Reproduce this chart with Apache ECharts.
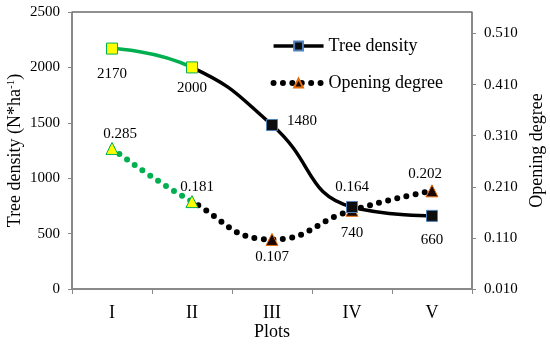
<!DOCTYPE html>
<html>
<head>
<meta charset="utf-8">
<script src="https://cdn.jsdelivr.net/npm/echarts@6/dist/echarts.min.js"></script>
<style>html,body{margin:0;padding:0;background:#fff}#c{width:550px;height:345px}</style>
</head>
<body>
<div id="c"></div>
<script>
const categories = ['I', 'II', 'III', 'IV', 'V'];
const treeDensity = [2170, 2000, 1480, 740, 660];
const openingDegree = [0.285, 0.181, 0.107, 0.164, 0.202];
const leftTicks = [0, 500, 1000, 1500, 2000, 2500];
const rightTicks = [0.010, 0.110, 0.210, 0.310, 0.410, 0.510];

const FONT = 'Liberation Serif';
const GREEN = '#00B050';
const splitGrad = (c1, c2) => ({
  type: 'linear', x: 0, y: 0, x2: 550, y2: 0, global: true,
  colorStops: [
    { offset: 0, color: c1 }, { offset: 192 / 550, color: c1 },
    { offset: 192 / 550, color: c2 }, { offset: 1, color: c2 }
  ]
});

const densityLabelCfg = [
  { position: 'bottom', distance: 12, offset: [0, 0] },
  { position: 'bottom', distance: 7, offset: [0, 0] },
  { position: 'right', distance: 9, offset: [0, -4] },
  { position: 'bottom', distance: 13, offset: [0, 0] },
  { position: 'bottom', distance: 11, offset: [0, 0] }
];
const openingLabelCfg = [
  { position: 'top', distance: 0, offset: [8, 0] },
  { position: 'top', distance: 1, offset: [5, 0] },
  { position: 'bottom', distance: 4, offset: [0, 0] },
  { position: 'top', distance: 9, offset: [0, 0] },
  { position: 'top', distance: 3, offset: [-7, 0] }
];

const densityData = treeDensity.map((v, i) => ({
  value: v,
  itemStyle: i < 2 ? { color: '#FFFF00', borderColor: GREEN } : { color: '#0d0d0d', borderColor: '#4F81BD' },
  label: densityLabelCfg[i]
}));
const openingData = openingDegree.map((v, i) => ({
  value: v,
  itemStyle: i < 2 ? { color: '#FFFF00', borderColor: GREEN } : { color: '#1a0800', borderColor: '#E46C0A' },
  label: openingLabelCfg[i]
}));

const chart = echarts.init(document.getElementById('c'), null, { renderer: 'canvas' });
chart.setOption({
  animation: false,
  backgroundColor: '#fff',
  textStyle: { fontFamily: FONT },
  grid: {
    left: 72, right: 78, top: 12, bottom: 56,
    show: true, borderColor: '#222', borderWidth: 1, backgroundColor: 'transparent',
    containLabel: false, outerBoundsMode: 'none'
  },
  legend: {
    right: 102, top: 32, orient: 'vertical', itemGap: 19,
    itemWidth: 50, itemHeight: 11,
    textStyle: { fontFamily: FONT, fontSize: 18, color: '#000' },
    data: [
      { name: 'Tree density', lineStyle: { color: '#000', width: 3.5 } },
      { name: 'Opening degree', lineStyle: { color: '#000', width: 6 } }
    ]
  },
  xAxis: {
    type: 'category', data: categories, boundaryGap: true,
    name: 'Plots', nameLocation: 'middle', nameGap: 34, nameMoveOverlap: false,
    nameTextStyle: { fontFamily: FONT, fontSize: 18, color: '#000' },
    axisLine: { lineStyle: { color: '#888', width: 1.5 } },
    axisTick: { show: true, length: 5, inside: false, lineStyle: { color: '#888' } },
    axisLabel: { fontFamily: FONT, fontSize: 18, color: '#000', margin: 15 },
    splitLine: { show: false }
  },
  yAxis: [
    {
      type: 'value', min: 0, max: 2500, interval: 500, position: 'left',
      name: 'Tree density (N*ha{sup|-1})', nameLocation: 'middle', nameGap: 47, nameRotate: 90,
      nameMoveOverlap: false,
      nameTextStyle: { fontFamily: FONT, fontSize: 18, color: '#000',
        rich: { sup: { fontFamily: FONT, fontSize: 11, color: '#000', verticalAlign: 'top', padding: [0, 0, 8, 0] } } },
      axisLine: { show: true, lineStyle: { color: '#888', width: 1.5 } },
      axisTick: { show: true, length: 4, lineStyle: { color: '#888' } },
      axisLabel: { fontFamily: FONT, fontSize: 15, color: '#000', margin: 12,
        customValues: leftTicks, formatter: v => String(v) },
      splitLine: { show: false }
    },
    {
      type: 'value', min: 0.01, max: 0.552, position: 'right',
      name: 'Opening degree', nameLocation: 'middle', nameGap: 56, nameRotate: 90,
      nameMoveOverlap: false,
      nameTextStyle: { fontFamily: FONT, fontSize: 18, color: '#000' },
      axisLine: { show: true, lineStyle: { color: '#888', width: 1.5 } },
      axisTick: { show: true, length: 4, lineStyle: { color: '#888' }, customValues: rightTicks },
      axisLabel: { fontFamily: FONT, fontSize: 15, color: '#000', margin: 12,
        customValues: rightTicks, formatter: v => v.toFixed(3) },
      splitLine: { show: false }
    }
  ],
  series: [
    {
      name: 'Tree density', type: 'line', yAxisIndex: 0, smooth: 0.5,
      data: densityData,
      symbol: 'rect', symbolSize: 11,
      itemStyle: { color: '#0d0d0d', borderColor: '#4F81BD', borderWidth: 1 },
      lineStyle: { color: splitGrad(GREEN, '#000'), width: 3.5 },
      label: { show: true, fontFamily: FONT, fontSize: 15, color: '#000' },
      z: 3
    },
    {
      name: 'Opening degree', type: 'line', yAxisIndex: 1, smooth: 0.5,
      data: openingData,
      symbol: 'triangle', symbolSize: 12,
      itemStyle: { color: '#1a0800', borderColor: '#E46C0A', borderWidth: 1 },
      lineStyle: { color: splitGrad(GREEN, '#000'), width: 6, type: [0, 9.4], cap: 'round' },
      label: { show: true, fontFamily: FONT, fontSize: 15, color: '#000',
        formatter: p => p.value.toFixed(3) },
      z: 2
    }
  ]
});
</script>
</body>
</html>
